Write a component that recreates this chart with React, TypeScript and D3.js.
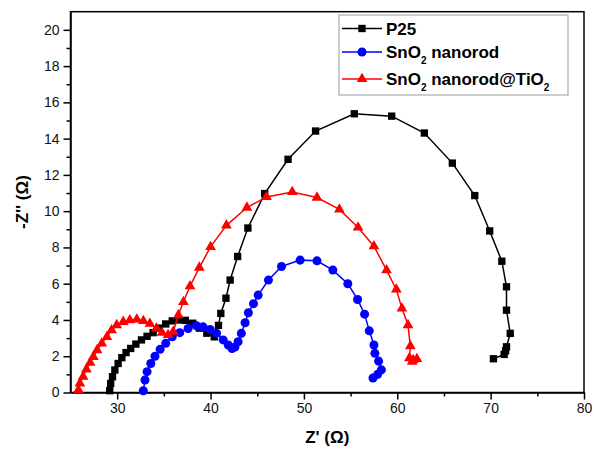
import { useEffect, useRef } from "react";
import * as d3 from "d3";

const p25X = [29.2, 29.3, 29.5, 29.75, 30.1, 30.5, 30.95, 31.45, 32.0, 32.6, 33.2, 33.85, 34.5, 35.2, 35.9, 36.6, 37.3, 38.1, 38.8, 39.6, 40.4, 40.85, 41.1, 41.65, 42.1, 42.9, 44.0, 45.8, 48.3, 51.25, 55.4, 59.4, 62.9, 65.9, 68.3, 69.9, 71.2, 71.7, 71.7, 72.1, 71.7, 71.6, 71.45, 70.3];
const p25Y = [0.1, 0.5, 0.87, 1.24, 1.6, 1.92, 2.2, 2.43, 2.67, 2.9, 3.1, 3.3, 3.55, 3.78, 3.95, 4.0, 3.98, 3.82, 3.55, 3.27, 3.07, 3.7, 4.36, 5.2, 6.2, 7.5, 9.07, 10.97, 12.86, 14.42, 15.37, 15.24, 14.31, 12.65, 10.86, 8.91, 7.24, 5.83, 4.54, 3.26, 2.52, 2.3, 2.1, 1.86];

const rodX = [32.8, 32.98, 33.2, 33.6, 34.05, 34.6, 35.2, 35.9, 36.7, 37.6, 38.5, 39.2, 39.95, 40.65, 41.35, 41.9, 42.3, 42.6, 42.95, 43.3, 43.7, 44.05, 44.6, 45.1, 46.2, 47.6, 49.6, 51.4, 53.1, 54.7, 55.75, 56.5, 57.0, 57.5, 57.6, 58.0, 58.3, 57.9, 57.4];
const rodY = [0.1, 0.69, 1.15, 1.6, 2.0, 2.38, 2.71, 3.07, 3.3, 3.53, 3.68, 3.62, 3.48, 3.26, 2.9, 2.62, 2.43, 2.5, 2.8, 3.26, 3.85, 4.4, 4.9, 5.37, 6.2, 6.95, 7.3, 7.26, 6.75, 6.0, 5.13, 4.32, 3.4, 2.62, 2.16, 1.73, 1.25, 1.0, 0.8];

const tioX = [25.85, 26.0, 26.35, 26.7, 27.1, 27.45, 27.85, 28.35, 28.9, 29.4, 29.95, 30.65, 31.35, 32.1, 32.8, 33.5, 34.2, 34.8, 35.45, 36.0, 36.55, 37.1, 37.8, 38.8, 40.0, 41.7, 43.9, 46.0, 48.75, 51.4, 53.8, 55.8, 57.5, 58.85, 59.9, 60.5, 61.15, 61.4, 61.3, 61.7, 62.1, 61.6];
const tioY = [0.14, 0.5, 0.87, 1.28, 1.64, 1.97, 2.34, 2.71, 3.07, 3.44, 3.72, 3.9, 3.99, 4.03, 3.95, 3.8, 3.53, 3.3, 3.17, 3.35, 4.27, 5.0, 5.86, 6.89, 8.03, 9.22, 10.2, 10.78, 11.06, 10.75, 10.1, 9.1, 8.07, 6.75, 5.68, 4.64, 3.72, 2.56, 1.9, 1.8, 1.85, 1.7];

const xTicks = [30, 40, 50, 60, 70, 80];
const xMinor = [35, 45, 55, 65, 75];
const yTicks = [0, 2, 4, 6, 8, 10, 12, 14, 16, 18, 20];
const yMinor = [1, 3, 5, 7, 9, 11, 13, 15, 17, 19];

const series = [
  { name: "P25", sub: "", tail: "", sub2: "", xs: p25X, ys: p25Y, color: "#000000", shape: d3.symbolSquare, size: 54 },
  { name: "SnO", sub: "2", tail: " nanorod", sub2: "", xs: rodX, ys: rodY, color: "#0000ff", shape: d3.symbolCircle, size: 64 },
  { name: "SnO", sub: "2", tail: " nanorod@TiO", sub2: "2", xs: tioX, ys: tioY, color: "#ff0000", shape: d3.symbolTriangle, size: 50 },
];

const W = 594;
const H = 452;
const FONT = "'Liberation Sans', Arial, sans-serif";

const App = () => {
  const svgRef = useRef<SVGSVGElement>(null);

  useEffect(() => {
    const svg = d3.select(svgRef.current);
    svg.selectAll("*").remove();
    const margin = { top: 11.7, right: 10, bottom: 59.5, left: 70.5 };
    const x = d3.scaleLinear().domain([25, 80]).range([margin.left, W - margin.right]);
    const y = d3.scaleLinear().domain([0, 21]).range([H - margin.bottom, margin.top]);

    // frame
    svg
      .append("rect")
      .attr("x", margin.left)
      .attr("y", margin.top)
      .attr("width", W - margin.right - margin.left)
      .attr("height", H - margin.bottom - margin.top)
      .attr("fill", "none")
      .attr("stroke", "black")
      .attr("stroke-width", 1.5);

    const xAxis = svg
      .append("g")
      .attr("transform", `translate(0, ${H - margin.bottom})`)
      .call(d3.axisBottom(x).tickValues(xTicks).tickSize(7).tickPadding(4).tickSizeOuter(0));
    svg
      .append("g")
      .attr("transform", `translate(0, ${H - margin.bottom})`)
      .call(d3.axisBottom(x).tickValues(xMinor).tickSize(4).tickFormat(() => "").tickSizeOuter(0))
      .select(".domain")
      .remove();
    const yAxis = svg
      .append("g")
      .attr("transform", `translate(${margin.left}, 0)`)
      .call(d3.axisLeft(y).tickValues(yTicks).tickSize(7).tickPadding(4).tickSizeOuter(0));
    svg
      .append("g")
      .attr("transform", `translate(${margin.left}, 0)`)
      .call(d3.axisLeft(y).tickValues(yMinor).tickSize(4).tickFormat(() => "").tickSizeOuter(0))
      .select(".domain")
      .remove();
    [xAxis, yAxis].forEach((g) => {
      g.selectAll("text").style("font-family", FONT).style("font-size", "14px").attr("fill", "#111");
      g.select(".domain").attr("stroke-width", 1.5);
    });
    svg.selectAll("g line").attr("stroke-width", 1.5);

    // axis titles
    svg
      .append("text")
      .attr("x", (margin.left + W - margin.right) / 2)
      .attr("y", 443)
      .attr("text-anchor", "middle")
      .style("font-family", FONT)
      .style("font-size", "17px")
      .style("font-weight", "bold")
      .text("Z' (Ω)");
    svg
      .append("text")
      .attr("transform", `translate(28, ${(margin.top + H - margin.bottom) / 2}) rotate(-90)`)
      .attr("text-anchor", "middle")
      .style("font-family", FONT)
      .style("font-size", "17px")
      .style("font-weight", "bold")
      .text("-Z'' (Ω)");

    // data
    series.forEach((s) => {
      const pts = s.xs.map((v, i) => [v, s.ys[i]] as [number, number]);
      svg
        .append("path")
        .datum(pts)
        .attr("fill", "none")
        .attr("stroke", s.color)
        .attr("stroke-width", 1.5)
        .attr("d", d3.line<[number, number]>().x((d) => x(d[0])).y((d) => y(d[1])));
      svg
        .append("g")
        .selectAll("path")
        .data(pts)
        .join("path")
        .attr("transform", (d) => `translate(${x(d[0])}, ${y(d[1])})`)
        .attr("d", d3.symbol().type(s.shape).size(s.size)())
        .attr("fill", s.color);
    });

    // legend
    const lg = svg.append("g");
    lg.append("rect")
      .attr("x", 339)
      .attr("y", 15)
      .attr("width", 229)
      .attr("height", 80)
      .attr("fill", "white")
      .attr("stroke", "#999")
      .attr("stroke-width", 1);
    series.forEach((s, i) => {
      const ly = [28.5, 52, 79][i];
      lg.append("line")
        .attr("x1", 342)
        .attr("x2", 382)
        .attr("y1", ly)
        .attr("y2", ly)
        .attr("stroke", s.color)
        .attr("stroke-width", 1.5);
      lg.append("path")
        .attr("transform", `translate(362, ${ly})`)
        .attr("d", d3.symbol().type(s.shape).size(s.size)())
        .attr("fill", s.color);
      const t = lg
        .append("text")
        .attr("x", 386)
        .attr("y", ly + 6)
        .style("font-family", FONT)
        .style("font-size", "17px")
        .style("font-weight", "bold");
      t.append("tspan").text(s.name);
      if (s.sub) {
        t.append("tspan").attr("dy", 6).style("font-size", "10px").text(s.sub);
        t.append("tspan").attr("dy", -6).text(s.tail);
      }
      if (s.sub2) {
        t.append("tspan").attr("dy", 6).style("font-size", "10px").text(s.sub2);
      }
    });
  }, []);

  return (
    <>
      <svg ref={svgRef} width={W} height={H} style={{ position: "absolute", left: 0, top: 0, background: "white" }}></svg>
    </>
  );
};

export default App;
